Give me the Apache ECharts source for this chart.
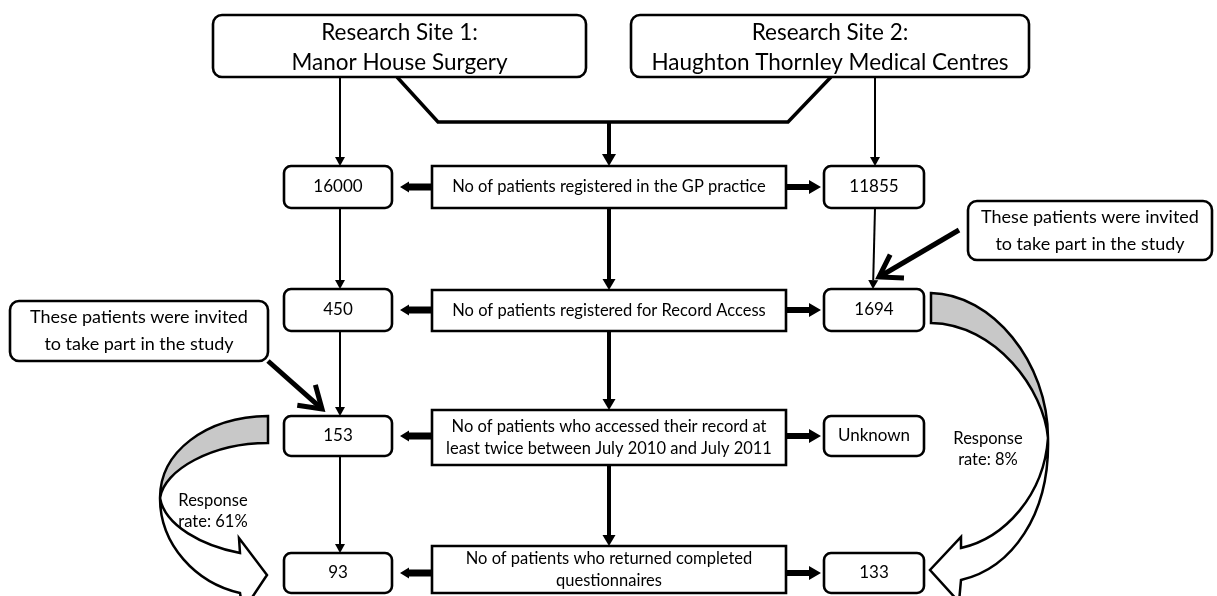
<!DOCTYPE html>
<html>
<head>
<meta charset="utf-8">
<title>Record Access study flow</title>
<script src="https://cdn.jsdelivr.net/npm/echarts@6/dist/echarts.min.js"></script>
<style>
  html, body { margin: 0; padding: 0; background: #fff; }
  #main { width: 1217px; height: 596px; }
</style>
</head>
<body>
<div id="main"></div>
<script>
// ---- chart data ----
var sites = ['Research Site 1:\nManor House Surgery', 'Research Site 2:\nHaughton Thornley Medical Centres'];
var stages = [
    'No of patients registered in the GP practice',
    'No of patients registered for Record Access',
    'No of patients who accessed their record at\nleast twice between July 2010 and July 2011',
    'No of patients who returned completed\nquestionnaires'
];
var site1Counts = [16000, 450, 153, 93];
var site2Counts = [11855, 1694, null, 133];   // null = not known
var invitedNote = 'These patients were invited\nto take part in the study';
var responseRates = [61, 8];                  // % site 1, site 2

// ---- layout (pixel space of the hidden axes) ----
var W = 1217, H = 596;
var FONT = 'Lato, "Open Sans", sans-serif';
var siteBox = [[213, 15, 373, 62], [631, 15, 398, 62]];
var stageCol = [432, 354];
var stageRows = [[166, 42], [290, 41], [410, 55], [546, 47]];
var countCols = [[284, 108], [824, 100]];
var countRows = [[166, 42], [289, 42], [416, 40], [553, 40]];
var noteBox = [[10, 301, 258, 60], [968, 201, 244, 59]];
var rateBox = [[176, 490, 74, 42], [950, 427, 76, 44]];
var colX = [340, 609, 875];

// boxes built from data + layout
var boxes = [];
sites.forEach(function (t, i) {
    boxes.push({ rect: siteBox[i], r: 9, text: t, size: 22.5, lh: 30, dy: 2, border: true });
});
stages.forEach(function (t, i) {
    boxes.push({ rect: [stageCol[0], stageRows[i][0], stageCol[1], stageRows[i][1]], r: 0, text: t, size: 16.5, lh: 22, dy: 0, border: true });
});
site1Counts.forEach(function (v, i) {
    boxes.push({ rect: [countCols[0][0], countRows[i][0], countCols[0][1], countRows[i][1]], r: 7, text: String(v), size: 17, lh: 20, dy: 0, border: true });
});
site2Counts.forEach(function (v, i) {
    boxes.push({ rect: [countCols[1][0], countRows[i][0], countCols[1][1], countRows[i][1]], r: 7, text: v == null ? 'Unknown' : String(v), size: 17, lh: 20, dy: 0, border: true });
});
noteBox.forEach(function (b) {
    boxes.push({ rect: b, r: 9, text: invitedNote, size: 18, lh: 27, dy: 0, border: true });
});
responseRates.forEach(function (v, i) {
    boxes.push({ rect: rateBox[i], r: 0, text: 'Response\nrate: ' + v + '%', size: 16.5, lh: 21, dy: 0, border: false });
});

// connectors
var links = [];
function link(pts, w, head, len, half) {
    links.push({ pts: pts, w: w, head: head, len: len || 0, half: half || 0 });
}
var rowMid = countRows.map(function (r) { return r[0] + r[1] / 2; });
// site 1 column (thin)
link([[colX[0], 77], [colX[0], countRows[0][0]]], 2, 'tri', 9, 5);
for (var i = 0; i < 3; i++) {
    link([[colX[0], countRows[i][0] + countRows[i][1]], [colX[0], countRows[i + 1][0]]], 2, 'tri', 9, 5);
}
// site 2 column (thin)
link([[colX[2], 77], [colX[2], countRows[0][0]]], 2, 'tri', 9, 5);
link([[colX[2], countRows[0][0] + countRows[0][1]], [colX[2] - 2, countRows[1][0]]], 2, 'tri', 9, 5);
// merge of both sites into the centre column
link([[397, 77], [438, 122], [788, 122], [831, 77]], 3.5, 'none');
link([[colX[1], 122], [colX[1], stageRows[0][0]]], 4, 'tri', 12, 7);
for (var j = 0; j < 3; j++) {
    link([[colX[1], stageRows[j][0] + stageRows[j][1]], [colX[1], stageRows[j + 1][0]]], 4, 'tri', 11, 6.5);
}
// block arrows from stage boxes to the site counts
rowMid.forEach(function (y) {
    link([[stageCol[0], y], [countCols[0][0] + countCols[0][1] + 8, y]], 3.5, 'block', 9, 5.5);
    link([[stageCol[0] + stageCol[1], y], [countCols[1][0] - 3, y]], 3, 'block', 12, 7);
});
// note callouts
link([[268, 361], [322, 409]], 5, 'open', 25, 33);
link([[959, 230], [879, 277]], 5, 'open', 25, 33);

// curved response arrows (gray fold + white band with head)
var curls = [
    {
        gray: [['M', [268, 416]], ['C', [205, 417], [160, 452], [160, 498]], ['C', [164, 470], [212, 443], [268, 443]], ['Z']],
        band: [['M', [160, 498]], ['C', [160, 545], [196, 583], [240, 593]], ['L', [243, 611]], ['L', [267, 575]],
               ['L', [239, 538]], ['L', [240, 553]], ['C', [203, 546], [165, 526], [160, 498]], ['Z']]
    },
    {
        gray: [['M', [931, 293]], ['C', [992, 294], [1048, 362], [1048, 438]], ['C', [1044, 390], [996, 324], [931, 323]], ['Z']],
        band: [['M', [1048, 438]], ['C', [1050, 515], [1012, 568], [961, 580]], ['L', [959, 602]], ['L', [930, 570]],
               ['L', [961, 537]], ['L', [961, 548]], ['C', [1005, 538], [1044, 495], [1048, 438]], ['Z']]
    }
];

// ---- helpers ----
function unit(a, b) {
    var dx = b[0] - a[0], dy = b[1] - a[1], d = Math.sqrt(dx * dx + dy * dy);
    return [dx / d, dy / d];
}
function toPath(api, cmds) {
    return cmds.map(function (c) {
        return c[0] + ' ' + c.slice(1).map(function (p) {
            var q = api.coord(p);
            return q[0].toFixed(1) + ' ' + q[1].toFixed(1);
        }).join(' ');
    }).join(' ');
}

function renderBox(params, api) {
    var b = boxes[params.dataIndex];
    var p0 = api.coord([api.value(0), api.value(1)]);
    var p1 = api.coord([api.value(2), api.value(3)]);
    return {
        type: 'rect',
        shape: { x: p0[0], y: Math.min(p0[1], p1[1]), width: p1[0] - p0[0], height: Math.abs(p1[1] - p0[1]), r: b.r },
        style: { fill: b.border ? '#fff' : 'none', stroke: b.border ? '#000' : 'none', lineWidth: 2.6 },
        textContent: {
            style: { text: b.text, font: b.size + 'px ' + FONT, fill: '#000', align: 'center', lineHeight: b.lh }
        },
        textConfig: { position: 'inside', offset: [0, b.dy] }
    };
}

function renderLink(params, api) {
    var l = links[params.dataIndex];
    var pts = l.pts.map(function (p) { return api.coord(p); });
    var n = pts.length;
    var tip = pts[n - 1];
    var u = n > 1 ? unit(pts[n - 2], tip) : [1, 0];
    var kids = [];
    if (l.head === 'tri') {
        var base = [tip[0] - u[0] * l.len, tip[1] - u[1] * l.len];
        kids.push({ type: 'polyline', shape: { points: pts.slice(0, n - 1).concat([base]) },
            style: { stroke: '#000', lineWidth: l.w, fill: 'none' } });
        kids.push({ type: 'polygon', shape: { points: [tip,
            [base[0] - u[1] * l.half, base[1] + u[0] * l.half],
            [base[0] + u[1] * l.half, base[1] - u[0] * l.half]] },
            style: { fill: '#000' } });
    } else if (l.head === 'block') {
        var s = l.w, y = tip[1], x0 = pts[0][0], dir = tip[0] > x0 ? 1 : -1;
        var xb = tip[0] - dir * l.len;
        kids.push({ type: 'polygon', shape: { points: [
            [x0, y - s], [xb, y - s], [xb, y - l.half], [tip[0], y], [xb, y + l.half], [xb, y + s], [x0, y + s]] },
            style: { fill: '#000' } });
    } else if (l.head === 'open') {
        var a = l.half * Math.PI / 180;
        var bx = -u[0], by = -u[1];
        var arm1 = [tip[0] + l.len * (bx * Math.cos(a) - by * Math.sin(a)), tip[1] + l.len * (bx * Math.sin(a) + by * Math.cos(a))];
        var arm2 = [tip[0] + l.len * (bx * Math.cos(-a) - by * Math.sin(-a)), tip[1] + l.len * (bx * Math.sin(-a) + by * Math.cos(-a))];
        kids.push({ type: 'polyline', shape: { points: [pts[0], [tip[0] - u[0] * 2, tip[1] - u[1] * 2]] },
            style: { stroke: '#000', lineWidth: l.w, fill: 'none' } });
        kids.push({ type: 'polyline', shape: { points: [arm1, tip, arm2] },
            style: { stroke: '#000', lineWidth: l.w, fill: 'none', lineJoin: 'miter' } });
    } else {
        kids.push({ type: 'polyline', shape: { points: pts },
            style: { stroke: '#000', lineWidth: l.w, fill: 'none', lineJoin: 'miter' } });
    }
    return { type: 'group', children: kids };
}

function renderCurl(params, api) {
    var c = curls[params.dataIndex];
    return {
        type: 'group',
        children: [
            { type: 'path', shape: { pathData: toPath(api, c.gray) },
              style: { fill: '#c8c8c8', stroke: '#000', lineWidth: 2.5, lineJoin: 'miter' } },
            { type: 'path', shape: { pathData: toPath(api, c.band) },
              style: { fill: '#fff', stroke: '#000', lineWidth: 2.5, lineJoin: 'miter' } }
        ]
    };
}

var chart = echarts.init(document.getElementById('main'));
chart.setOption({
    animation: false,
    backgroundColor: '#fff',
    grid: { left: 0, right: 0, top: 0, bottom: 0 },
    xAxis: { type: 'value', min: 0, max: W, show: false },
    yAxis: { type: 'value', min: 0, max: H, inverse: true, show: false },
    series: [
        {
            type: 'custom', name: 'links', coordinateSystem: 'cartesian2d', silent: true, clip: false,
            renderItem: renderLink,
            data: links.map(function (l) { return l.pts[0]; })
        },
        {
            type: 'custom', name: 'response', coordinateSystem: 'cartesian2d', silent: true, clip: false,
            renderItem: renderCurl,
            data: curls.map(function (c) { return c.gray[0][1]; })
        },
        {
            type: 'custom', name: 'boxes', coordinateSystem: 'cartesian2d', silent: true, clip: false,
            renderItem: renderBox,
            data: boxes.map(function (b) {
                return [b.rect[0], b.rect[1], b.rect[0] + b.rect[2], b.rect[1] + b.rect[3]];
            })
        }
    ]
});
</script>
</body>
</html>
